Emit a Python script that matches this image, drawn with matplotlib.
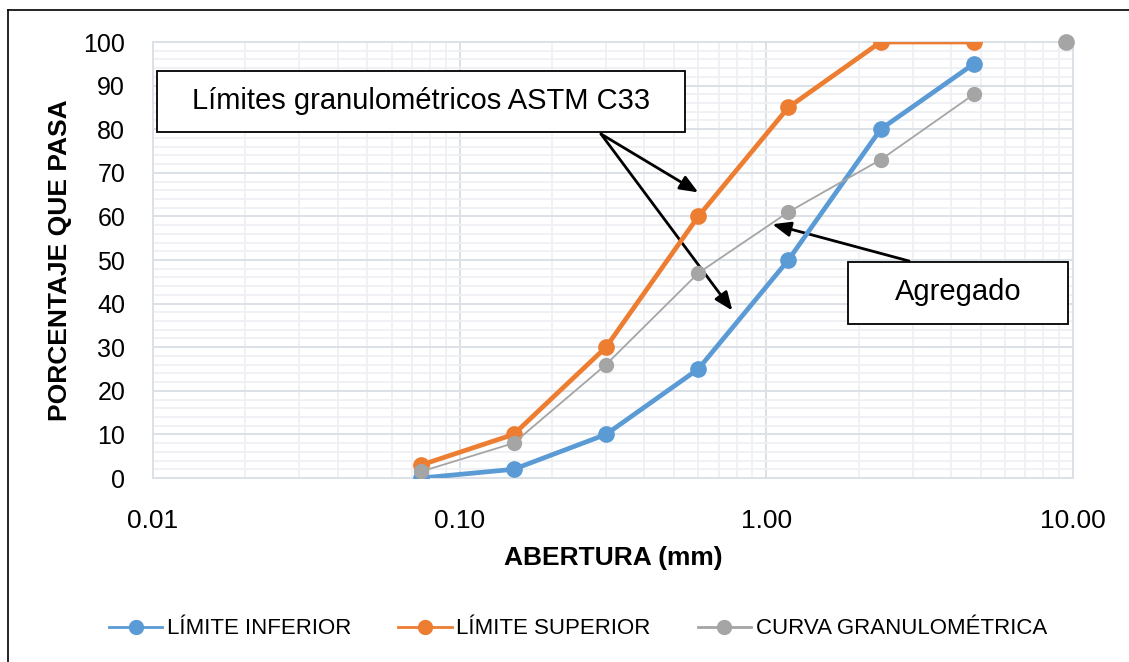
import matplotlib
matplotlib.use("Agg")
import matplotlib.pyplot as plt
from matplotlib.lines import Line2D
from matplotlib.ticker import FixedLocator, FixedFormatter, MultipleLocator, LogLocator, NullFormatter

# sieve openings (mm) and percent passing
abertura = [0.075, 0.15, 0.3, 0.6, 1.18, 2.36, 4.75]
lim_inferior = [0, 2, 10, 25, 50, 80, 95]
lim_superior = [3, 10, 30, 60, 85, 100, 100]
curva = [1.5, 8, 26, 47, 61, 73, 88]
curva_extra_x = [9.5]
curva_extra_y = [100]

xticks = [0.01, 0.1, 1, 10]
xtick_labels = ["0.01", "0.10", "1.00", "10.00"]

font = "Liberation Sans"

W, H = 1129, 662
fig = plt.figure(figsize=(W / 100, H / 100), dpi=100)


def fx(px):
    return px / W


def fy(py):
    return 1 - py / H


ax = fig.add_axes([fx(153), fy(478), fx(1073) - fx(153), fy(42) - fy(478)])

blue = "#5B9BD5"
orange = "#ED7D31"
gray = "#A5A5A5"

ax.plot(abertura, lim_inferior, color=blue, lw=3.4, marker="o", ms=11, zorder=4)
ax.plot(abertura, lim_superior, color=orange, lw=3.4, marker="o", ms=11, zorder=4)
ax.plot(abertura, curva, color=gray, lw=1.3, marker="o", ms=10, zorder=5)
ax.plot(curva_extra_x, curva_extra_y, color=gray, lw=0, marker="o", ms=11, zorder=5,
        clip_on=False)

ax.set_xscale("log")
ax.set_xlim(0.01, 10)
ax.set_ylim(0, 100)

ax.xaxis.set_major_locator(FixedLocator(xticks))
ax.xaxis.set_major_formatter(FixedFormatter(xtick_labels))
ax.xaxis.set_minor_locator(LogLocator(base=10, subs=range(2, 10)))
ax.xaxis.set_minor_formatter(NullFormatter())
ax.yaxis.set_major_locator(MultipleLocator(10))
ax.yaxis.set_minor_locator(MultipleLocator(2))

ax.grid(which="major", color="#DCE0E7", lw=1.4, zorder=0)
ax.grid(which="minor", color="#EEF0F4", lw=1.3, zorder=0)
ax.set_axisbelow(True)
for s in ax.spines.values():
    s.set_color("#DCE0E7")
    s.set_linewidth(1.4)

ax.tick_params(which="both", length=0)
ax.tick_params(axis="y", pad=20, labelsize=18)
ax.tick_params(axis="x", pad=22, labelsize=19)
for lab in ax.get_yticklabels() + ax.get_xticklabels():
    lab.set_fontfamily(font)

ax.set_ylabel("PORCENTAJE QUE PASA", fontsize=19, fontweight="bold",
              fontfamily=font, labelpad=8)
ax.set_xlabel("ABERTURA (mm)", fontsize=19, fontweight="bold",
              fontfamily=font, labelpad=10)

# annotation boxes
box1 = plt.Rectangle((fx(157), fy(132)), fx(685) - fx(157), fy(71) - fy(132),
                     transform=fig.transFigure, facecolor="white", edgecolor="black",
                     lw=1.3, zorder=10)
fig.patches.append(box1)
fig.text(fx(421), fy(101), "Límites granulométricos ASTM C33", fontsize=21,
         fontfamily=font, ha="center", va="center", zorder=11)

box2 = plt.Rectangle((fx(848), fy(324)), fx(1068) - fx(848), fy(262) - fy(324),
                     transform=fig.transFigure, facecolor="white", edgecolor="black",
                     lw=1.3, zorder=10)
fig.patches.append(box2)
fig.text(fx(958), fy(292), "Agregado", fontsize=21, fontfamily=font,
         ha="center", va="center", zorder=11)

arrow = dict(arrowstyle="-|>,head_length=1.1,head_width=0.45", color="black", lw=2.0,
             shrinkA=0, shrinkB=0)
ax.annotate("", xy=(0.60, 65.5), xycoords="data",
            xytext=(fx(601), fy(134)), textcoords="figure fraction", arrowprops=arrow)
ax.annotate("", xy=(0.775, 38.4), xycoords="data",
            xytext=(fx(601), fy(134)), textcoords="figure fraction", arrowprops=arrow)
ax.annotate("", xy=(1.046, 58.2), xycoords="data",
            xytext=(fx(909), fy(261)), textcoords="figure fraction", arrowprops=arrow)

# legend
handles = [
    Line2D([], [], color=blue, lw=2, marker="o", ms=10),
    Line2D([], [], color=orange, lw=2, marker="o", ms=10),
    Line2D([], [], color=gray, lw=2, marker="o", ms=10),
]
labels = ["LÍMITE INFERIOR", "LÍMITE SUPERIOR", "CURVA GRANULOMÉTRICA"]
fig.legend(handles, labels, loc="center", bbox_to_anchor=(fx(578), fy(629)), ncol=3,
           frameon=False, prop={"family": font, "size": 16}, handlelength=2.4,
           handletextpad=0.22, columnspacing=2.1)

# outer frame (top and left edges visible)
fig.add_artist(Line2D([fx(8), 1], [fy(10), fy(10)], transform=fig.transFigure,
                      color="black", lw=1.2))
fig.add_artist(Line2D([fx(8), fx(8)], [0, fy(10)], transform=fig.transFigure,
                      color="black", lw=1.2))

fig.savefig("out.png", dpi=100)
